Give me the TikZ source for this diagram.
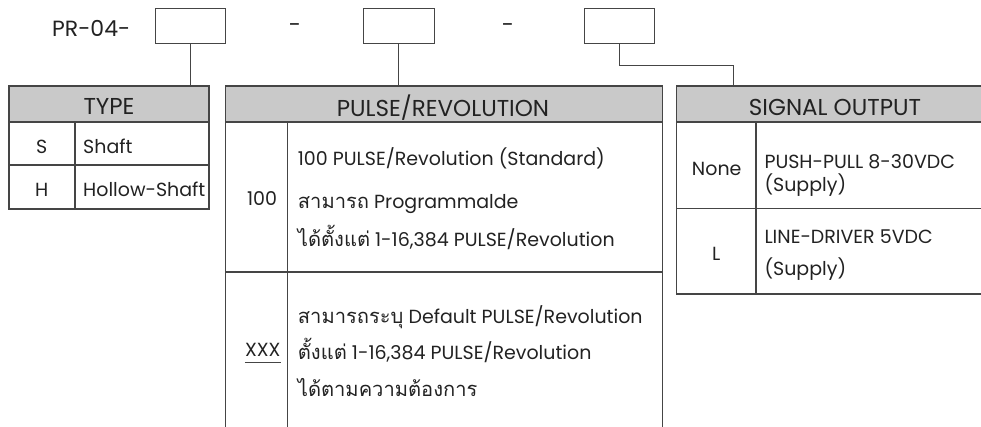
\documentclass[tikz,border=0pt]{standalone}
\usepackage{fontspec}
\setmainfont{Poppins}
\newfontfamily\thai[Script=Thai,Scale=1.06]{Loma}
\definecolor{ln}{HTML}{454545}
\definecolor{hd}{HTML}{C9C9C9}
\definecolor{tx}{HTML}{222222}
\begin{document}
\begin{tikzpicture}[x=1pt,y=-1pt,
  cell/.style={draw=ln,line width=1.3pt,anchor=north west,inner sep=0pt,outer sep=0pt},
  head/.style={cell,fill=hd},
  codebox/.style={draw=ln,line width=1pt,minimum width=70pt,minimum height=35pt,inner sep=0pt},
  conn/.style={draw=ln,line width=1pt},
  body/.style={text=tx,inner sep=0pt,font=\fontsize{19}{22}\selectfont},
  bodyl/.style={body,anchor=base west},
  bodyc/.style={body,anchor=base},
  sig/.style={text=tx,inner sep=0pt,anchor=base west,font=\fontsize{19}{22}\selectfont},
  hdtext/.style={text=tx,inner sep=0pt,anchor=base,font=\fontsize{23}{26}\selectfont},
]
\useasboundingbox (0,0) rectangle (981,426);
\clip (0,0) rectangle (981,426);
% code line
\node[text=tx,inner sep=0pt,anchor=base west,font=\fontsize{22}{26}\selectfont] (pr) at (52,36.7) {PR-04-};
\node[codebox] (b1) at (190.4,25.8) {};
\node[text=tx,inner sep=0pt,font=\fontsize{22}{26}\selectfont] (d1) at (295,28) {-};
\node[codebox,minimum width=71pt] (b2) at (398.8,25.8) {};
\node[text=tx,inner sep=0pt,font=\fontsize{22}{26}\selectfont] (d2) at (508,28) {-};
\node[codebox] (b3) at (619,25.8) {};

% TYPE table
\node[head,minimum width=200pt,minimum height=36pt] (typeH) at (9,86) {};
\node[cell,minimum width=66pt,minimum height=43pt] (typeSk) at (9,122) {};
\node[cell,minimum width=134pt,minimum height=43pt] (typeSv) at (75,122) {};
\node[cell,minimum width=66pt,minimum height=44pt] (typeHk) at (9,165) {};
\node[cell,minimum width=134pt,minimum height=44pt] (typeHv) at (75,165) {};
\node[hdtext] (typeT) at (109,114.3) {TYPE};
\node[bodyc] (tS) at (41.7,153.3) {S};
\node[bodyl] (tShaft) at (83,153.3) {Shaft};
\node[bodyc] (tH) at (41.7,196.7) {H};
\node[bodyl] (tHollow) at (83,196.7) {Hollow-Shaft};

% PULSE table
\node[head,minimum width=437pt,minimum height=36pt] (pulH) at (225.3,86) {};
\node[cell,minimum width=62.4pt,minimum height=150pt] (p1k) at (225.3,122) {};
\node[cell,minimum width=374.6pt,minimum height=150pt] (p1v) at (287.7,122) {};
\node[cell,minimum width=62.4pt,minimum height=170pt] (p2k) at (225.3,272) {};
\node[cell,minimum width=374.6pt,minimum height=170pt] (p2v) at (287.7,272) {};
\node[hdtext] (pulT) at (443,116) {PULSE/REVOLUTION};
\node[bodyc] (p100) at (262,205) {100};
\node[bodyl] (p1a) at (297.7,165) {100 PULSE/Revolution (Standard)};
\node[bodyl] (p1b) at (297.7,208.3) {{\thai สามารถ} Programmalde};
\node[bodyl] (p1c) at (297.7,246.7) {{\thai ได้ตั้งแต่} 1-16,384 PULSE/Revolution};
\node[bodyc] (pXXX) at (262.7,356.7) {XXX};
\draw[conn,line width=0.8pt] (pXXX.south west) ++(0,5) coordinate (u1) -- (u1 -| pXXX.south east);
\node[bodyl] (p2a) at (297.7,323.3) {{\thai สามารถระบุ} Default PULSE/Revolution};
\node[bodyl] (p2b) at (297.7,359.3) {{\thai ตั้งแต่} 1-16,384 PULSE/Revolution};
\node[bodyl] (p2c) at (297.7,396.7) {\thai ได้ตามความต้องการ};

% SIGNAL table
\node[head,minimum width=320pt,minimum height=36pt] (sigH) at (676.7,86) {};
\node[cell,minimum width=79.3pt,minimum height=86.3pt] (s1k) at (676.7,122) {};
\node[cell,minimum width=240pt,minimum height=86.3pt] (s1v) at (756,122) {};
\node[cell,minimum width=79.3pt,minimum height=85.7pt] (s2k) at (676.7,208.3) {};
\node[cell,minimum width=240pt,minimum height=85.7pt] (s2v) at (756,208.3) {};
\node[hdtext] (sigT) at (835,115) {SIGNAL OUTPUT};
\node[bodyc] (sNone) at (716.7,175) {None};
\node[sig] (s1a) at (764.3,168.3) {PUSH-PULL 8-30VDC};
\node[sig] (s1b) at (764.3,191.7) {(Supply)};
\node[bodyc] (sL) at (716.3,260) {L};
\node[sig] (s2a) at (764.3,243.3) {LINE-DRIVER 5VDC};
\node[sig] (s2b) at (764.3,275) {(Supply)};

% connectors
\draw[conn] (b1.south) -- (b1.south |- typeH.north);
\draw[conn] (b2.south) -- (b2.south |- pulH.north);
\coordinate (c3) at (733.3,65.3);
\draw[conn] (b3.south) |- (c3) -- (c3 |- sigH.north);
\end{tikzpicture}
\end{document}
